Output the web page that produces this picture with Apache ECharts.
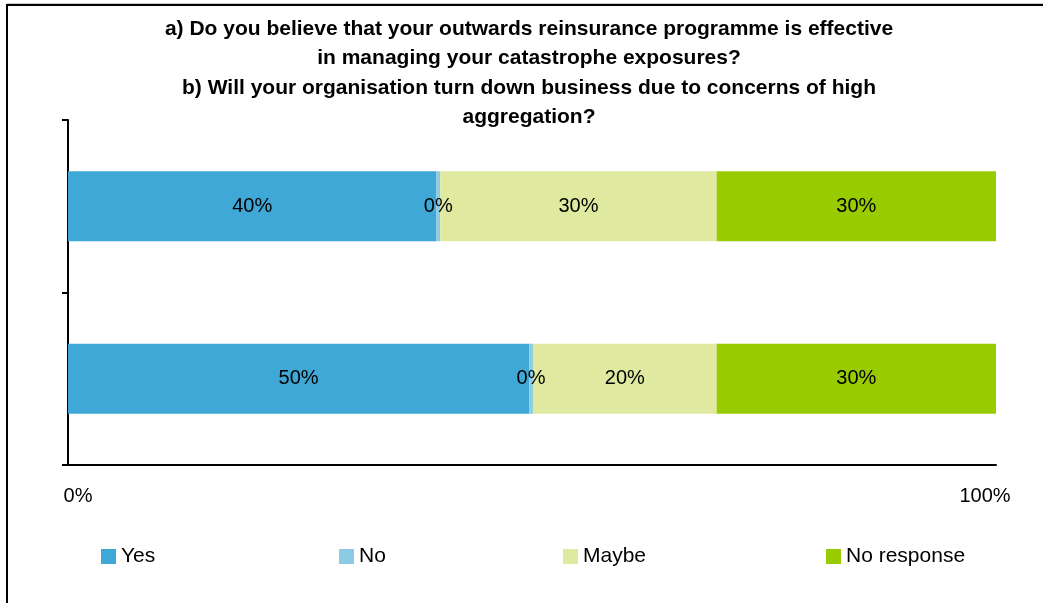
<!DOCTYPE html>
<html>
<head>
<meta charset="utf-8">
<title>Outwards reinsurance and aggregation survey</title>
<script src="https://cdn.jsdelivr.net/npm/echarts@6/dist/echarts.min.js"></script>
<style>
  html, body { margin: 0; padding: 0; background: #ffffff; }
  #chart { width: 1043px; height: 603px; }
</style>
</head>
<body>
<div id="chart"></div>
<script>
// Survey questions (a at the top, b below)
const categories = ['a)', 'b)'];

// Share of responses per question, in percent
const seriesNames = ['Yes', 'No', 'Maybe', 'No response'];
const yesValues = [39.7, 49.7];
const noValues = [0.4, 0.4];
const maybeValues = [29.8, 19.8];
const noResponseValues = [30.1, 30.1];

// Value axis tick labels
const axisMin = 0;
const axisMax = 100;

const titleText = 'a) Do you believe that your outwards reinsurance programme is effective\n' +
  'in managing your catastrophe exposures?\n' +
  'b) Will your organisation turn down business due to concerns of high\n' +
  'aggregation?';

const colors = ['#3fa8d6', '#8ccbe6', '#dfeaa0', '#99cc00'];
const FONT = '"Liberation Sans", Arial, sans-serif';

const chart = echarts.init(document.getElementById('chart'), null, { renderer: 'canvas' });

function makeSeries(name, values, idx) {
  return {
    name: name,
    type: 'bar',
    stack: 'total',
    barWidth: 70,
    data: values,
    itemStyle: { color: colors[idx] },
    label: {
      show: true,
      position: 'inside',
      color: '#000000',
      fontFamily: FONT,
      fontSize: 20,
      formatter: p => Math.round(p.value) + '%'
    },
    emphasis: { disabled: true },
    animation: false
  };
}

function makeLegend(name, left) {
  return {
    data: [name],
    left: left,
    top: 546,
    icon: 'rect',
    itemWidth: 15,
    itemHeight: 15,
    padding: 0,
    selectedMode: false,
    textStyle: { fontFamily: FONT, fontSize: 21, color: '#000000' }
  };
}

const option = {
  backgroundColor: '#ffffff',
  animation: false,
  title: {
    text: titleText,
    left: 529,
    top: 14,
    textAlign: 'center',
    padding: 0,
    textStyle: {
      fontFamily: FONT,
      fontSize: 21,
      fontWeight: 'bold',
      color: '#000000',
      lineHeight: 29.5
    }
  },
  legend: [
    makeLegend('Yes', 101),
    makeLegend('No', 339),
    makeLegend('Maybe', 563),
    makeLegend('No response', 826)
  ],
  grid: {
    left: 68,
    right: 47,
    top: 120,
    bottom: 138,
    containLabel: false
  },
  xAxis: {
    type: 'value',
    min: axisMin,
    max: axisMax,
    interval: 100,
    splitLine: { show: false },
    axisTick: { show: false },
    axisLine: { show: true, lineStyle: { color: '#000000', width: 2 } },
    axisLabel: {
      margin: 21,
      formatter: v => v === axisMin ? '{lo|' + v + '%}' : '{hi|' + v + '%}',
      rich: {
        lo: { fontFamily: FONT, fontSize: 20, color: '#000000', padding: [0, 0, 0, 20] },
        hi: { fontFamily: FONT, fontSize: 20, color: '#000000', padding: [0, 22, 0, 0] }
      }
    }
  },
  yAxis: {
    type: 'category',
    data: categories,
    inverse: true,
    axisLine: { show: true, lineStyle: { color: '#000000', width: 2 } },
    axisTick: { show: true, length: 6, lineStyle: { color: '#000000', width: 2 } },
    axisLabel: { show: false },
    splitLine: { show: false }
  },
  series: [
    makeSeries(seriesNames[0], yesValues, 0),
    makeSeries(seriesNames[1], noValues, 1),
    makeSeries(seriesNames[2], maybeValues, 2),
    makeSeries(seriesNames[3], noResponseValues, 3)
  ],
  graphic: [
    {
      type: 'line',
      silent: true,
      shape: { x1: 7, y1: 3.5, x2: 1043, y2: 3.5 },
      style: { stroke: '#c8c8c8', lineWidth: 1 }
    },
    {
      type: 'rect',
      silent: true,
      shape: { x: 7, y: 5, width: 1200, height: 800 },
      style: { fill: null, stroke: '#000000', lineWidth: 2 }
    }
  ]
};

chart.setOption(option);
</script>
</body>
</html>
